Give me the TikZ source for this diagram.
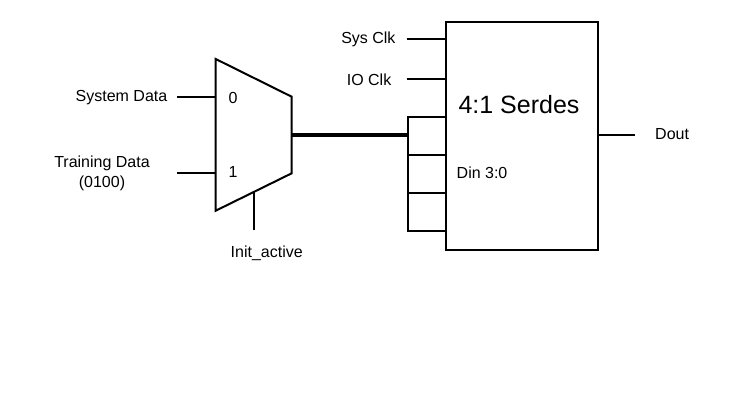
\documentclass[tikz,border=0pt]{standalone}
\usepackage{fontspec}
\setmainfont{Liberation Sans}
\begin{document}
\begin{tikzpicture}[x=1pt,y=-1pt,
  wire/.style={line width=2pt},
  bus/.style={line width=3.8pt},
  lbl/.style={inner sep=0pt,font=\fontsize{16}{18}\selectfont},
  cell/.style={draw,line width=2pt,minimum width=37.7pt,minimum height=38pt,inner sep=0pt,anchor=north west},
  bigbox/.style={draw,line width=2pt,minimum width=151.7pt,minimum height=228.3pt,inner sep=0pt,anchor=north west}]
\useasboundingbox (0,0) rectangle (733,400);
% mux
\coordinate (mtl) at (215.7,59);
\coordinate (mbl) at (215.7,210.7);
\coordinate (mtr) at (291.7,96.7);
\coordinate (mbr) at (291.7,173.3);
\draw[wire,line join=miter] (mtl) -- (mtr) -- (mbr) -- (mbl) -- cycle;
\coordinate (in0) at (215.7,97.3);
\coordinate (in1) at (215.7,173.3);
\coordinate (muxout) at (291.7,135);
\coordinate (sel) at (254,191.7);
\coordinate (s0) at (177.3,97.3);
\coordinate (s1) at (177.3,173.3);
\coordinate (selend) at (254,230);
\draw[wire] (s0) -- (in0);
\draw[wire] (s1) -- (in1);
\draw[wire] (sel) -- (selend);
\node[lbl] (l0) at (233,97.5) {0};
\node[lbl] (l1) at (233,172) {1};
\node[lbl,anchor=east] (sysdata) at (167.5,97.5) {System Data};
\node[lbl,align=center] (train) at (102,173) {Training Data\\[2pt](0100)};
\node[lbl] (init) at (266.7,253.5) {Init\_active};
% serdes
\node[bigbox] (ser) at (445,21) {};
\node[cell] (c1) at (407.3,116) {};
\node[cell] (c2) at (407.3,154) {};
\node[cell] (c3) at (407.3,192) {};
\coordinate (busend) at (407.3,135);
\draw[bus] (muxout) -- (busend);
\coordinate (sysclk) at (406.7,39);
\coordinate (ioclk) at (406.7,79);
\draw[wire] (sysclk) -- (sysclk -| ser.west);
\draw[wire] (ioclk) -- (ioclk -| ser.west);
\node[lbl,anchor=east] (lsys) at (395.7,39.5) {Sys Clk};
\node[lbl,anchor=east] (lio) at (391.5,79.5) {IO Clk};
\node[inner sep=0pt,font=\fontsize{25}{27}\selectfont] (title) at (519,105) {4:1 Serdes};
\node[lbl,anchor=west] (din) at (456.5,172.5) {Din 3:0};
\coordinate (dout) at (635,135);
\draw[wire] (ser.east |- dout) -- (dout);
\node[lbl,anchor=west] (ldout) at (655,134) {Dout};
\end{tikzpicture}
\end{document}
